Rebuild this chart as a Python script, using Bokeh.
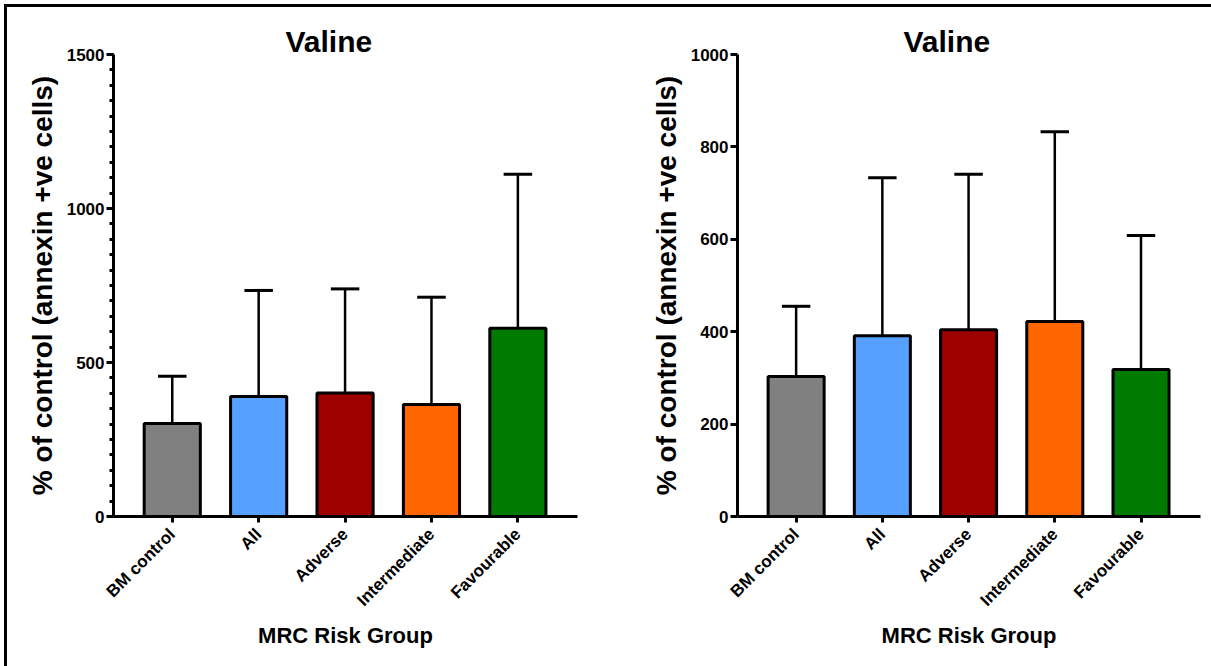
from bokeh.plotting import figure
from bokeh.layouts import row
from bokeh.models import Range1d, FixedTicker, ColumnDataSource
from bokeh.embed import file_html
from bokeh.resources import INLINE

# ---- data ----
categories = ["BM control", "All", "Adverse", "Intermediate", "Favourable"]
bar_colors = ["#808080", "#56A0FF", "#9E0000", "#FF6600", "#007A00"]

left_mean = [302, 390, 401, 364, 611]
left_sd = [153, 344, 338, 348, 500]
left_yticks = [0, 500, 1000, 1500]
left_yminor = list(range(0, 1501, 50))

right_mean = [303, 391, 404, 422, 318]
right_sd = [152, 342, 337, 411, 290]
right_yticks = [0, 200, 400, 600, 800, 1000]

title_text = "Valine"
y_label = "% of control (annexin +ve cells)"
x_label = "MRC Risk Group"

FONT = "Liberation Sans"


def make_panel(mean, sd, yticks, yminor, width, mbl, mbr, title_offset):
    x = list(range(1, len(categories) + 1))
    upper = [m + s for m, s in zip(mean, sd)]
    half_cap = 0.165
    src = ColumnDataSource(dict(
        x=x, top=mean, upper=upper, color=bar_colors,
        cx0=[v - half_cap for v in x], cx1=[v + half_cap for v in x],
    ))
    p = figure(width=width, height=659, output_backend="svg", toolbar_location=None,
               x_range=Range1d(0.32, 5.69), y_range=Range1d(0, yticks[-1]),
               min_border_left=mbl, min_border_right=mbr,
               min_border_top=47, min_border_bottom=150)
    p.title.text = title_text
    p.title.text_font = FONT
    p.title.text_font_size = "30px"
    p.title.text_font_style = "bold"
    p.title.text_color = "black"
    p.title.align = "left"
    p.title.offset = title_offset
    p.title.standoff = -6
    p.outline_line_color = None
    p.xgrid.grid_line_color = None
    p.ygrid.grid_line_color = None
    p.background_fill_color = "white"
    p.border_fill_color = "white"

    # error bars (upper only)
    p.segment(x0="x", y0="top", x1="x", y1="upper", source=src,
              line_color="black", line_width=2.5)
    p.segment(x0="cx0", y0="upper", x1="cx1", y1="upper", source=src,
              line_color="black", line_width=3)
    # bars
    p.vbar(x="x", top="top", bottom=0, width=0.65, source=src,
           fill_color="color", line_color="black", line_width=3)

    # x axis
    xa = p.xaxis[0]
    xa.ticker = FixedTicker(ticks=x)
    xa.major_label_overrides = {v: c for v, c in zip(x, categories)}
    xa.major_label_orientation = 0.785398
    xa.major_label_text_font = FONT
    xa.major_label_text_font_size = "17px"
    xa.major_label_text_font_style = "bold"
    xa.major_label_text_color = "black"
    xa.major_label_standoff = 9
    xa.axis_line_width = 3
    xa.axis_line_color = "black"
    xa.major_tick_line_width = 3
    xa.major_tick_line_color = "black"
    xa.major_tick_out = 6
    xa.major_tick_in = 0
    xa.minor_tick_line_color = None
    xa.axis_label = x_label
    xa.axis_label_text_font = FONT
    xa.axis_label_text_font_size = "22px"
    xa.axis_label_text_font_style = "bold"
    xa.axis_label_text_color = "black"
    xa.axis_label_standoff = 4

    # y axis
    ya = p.yaxis[0]
    ya.ticker = FixedTicker(ticks=yticks, minor_ticks=yminor)
    ya.major_label_text_font = FONT
    ya.major_label_text_font_size = "17px"
    ya.major_label_text_font_style = "bold"
    ya.major_label_text_color = "black"
    ya.major_label_standoff = 2
    ya.axis_line_width = 3
    ya.axis_line_color = "black"
    ya.major_tick_line_width = 3
    ya.major_tick_line_color = "black"
    ya.major_tick_out = 7
    ya.major_tick_in = 0
    if yminor:
        ya.minor_tick_line_width = 3
        ya.minor_tick_line_color = "black"
        ya.minor_tick_out = 4
        ya.minor_tick_in = 0
    else:
        ya.minor_tick_line_color = None
    ya.axis_label = y_label
    ya.axis_label_text_font = FONT
    ya.axis_label_text_font_size = "28px"
    ya.axis_label_text_font_style = "bold"
    ya.axis_label_text_color = "black"
    ya.axis_label_standoff = 6
    return p


p1 = make_panel(left_mean, left_sd, left_yticks, left_yminor, 624, 106, 54, 172)
p2 = make_panel(right_mean, right_sd, right_yticks, [], 580, 106, 11, 166)

layout = row(p1, p2, margin=(4, 0, 0, 4),
             styles={"border-top": "3px solid black", "border-left": "3px solid black",
                     "background-color": "white"})

open("out.html", "w").write(file_html(layout, INLINE))
